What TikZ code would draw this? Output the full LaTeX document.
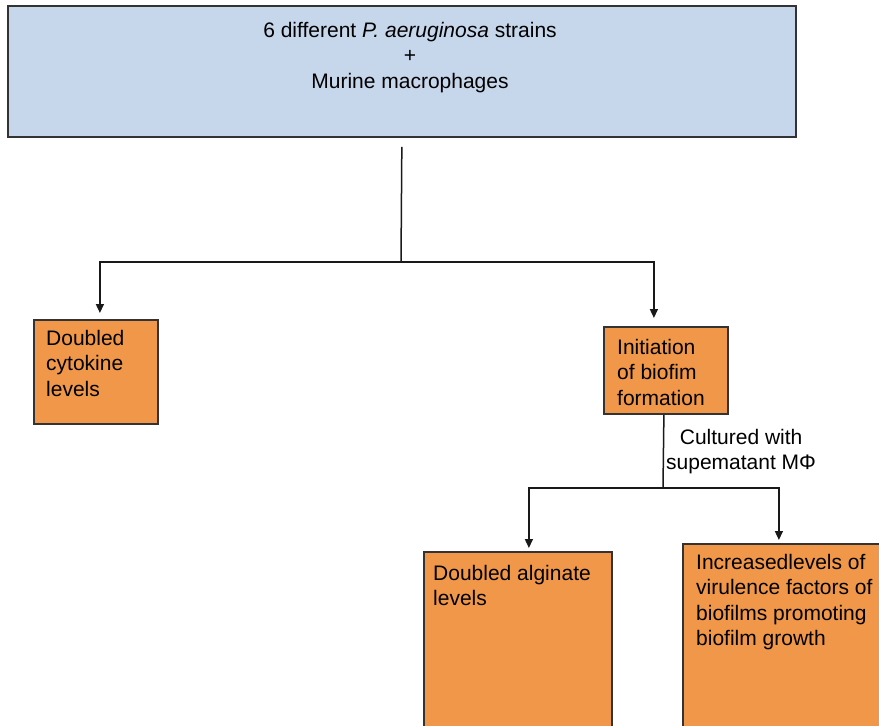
\documentclass[tikz,border=0pt]{standalone}
\usepackage{fontspec}
\setmainfont{Liberation Sans}
\usepackage{tikz}
\usetikzlibrary{positioning,arrows.meta}
\definecolor{strainblue}{RGB}{198,214,235}
\definecolor{resorange}{RGB}{240,151,74}

\begin{document}
\begin{tikzpicture}[x=1pt,y=-1pt,
  bigbox/.style={draw=black!80,line width=1.8pt,fill=strainblue,anchor=north west,inner sep=0pt},
  resbox/.style={draw=black!80,line width=1.8pt,fill=resorange,anchor=north west,inner sep=0pt},
  boxtext/.style={align=left,anchor=north west,inner sep=0pt,font=\fontsize{21}{25.5}\selectfont},
  link/.style={draw=black!90,line width=1.5pt},
  arr/.style={link,-{Triangle[length=9pt,width=8pt]}}]
\clip (0,0) rectangle (879,726);
% -> strains + macrophages
\node[bigbox,minimum width=788pt,minimum height=131pt] (strains) at (7,5) {};
\node[boxtext,align=center,anchor=north] (strainstext) at (410,22) {6 different \textit{P. aeruginosa} strains\\+\\Murine macrophages};
\coordinate (split) at (401,262);
\draw[link,shorten <=9pt] (strains.south) -- (split);
% -> cytokines
\node[resbox,minimum width=124pt,minimum height=104pt] (cyto) at (33,319) {};
\node[boxtext,below right=11pt and 13pt of cyto.north west] (cytotext) {Doubled\\cytokine\\levels};
\draw[arr,shorten >=6pt] (split) -| ([xshift=4pt]cyto.north);
% -> biofilm
\node[resbox,minimum width=124pt,minimum height=87pt] (init) at (603,326) {};
\node[boxtext,below right=13pt and 14pt of init.north west] (inittext) {Initiation\\of biofim\\formation};
\draw[arr,shorten >=8pt] (split) -| ([xshift=-12pt]init.north);
\coordinate (split2) at (663,488);
\draw[link] ([xshift=-2pt]init.south) -- node[midway,right,inner sep=2pt,align=center,font=\fontsize{21}{25.5}\selectfont] (cultlabel) {Cultured with\\supematant MΦ} (split2);
% -> alginate, virulence
\node[resbox,minimum width=188pt,minimum height=220pt] (alg) at (423,551) {};
\node[boxtext,below right=14pt and 10pt of alg.north west] (algtext) {Doubled alginate\\levels};
\node[resbox,minimum width=200pt,minimum height=230pt] (vir) at (682,543) {};
\node[boxtext,below right=11pt and 14pt of vir.north west] (virtext) {Increasedlevels of\\virulence factors of\\biofilms promoting\\biofilm growth};
\draw[arr,shorten >=3pt] (split2) -| ([xshift=11pt]alg.north);
\draw[arr,shorten >=3pt] (split2) -| ([xshift=-4pt]vir.north);
\end{tikzpicture}
\end{document}
